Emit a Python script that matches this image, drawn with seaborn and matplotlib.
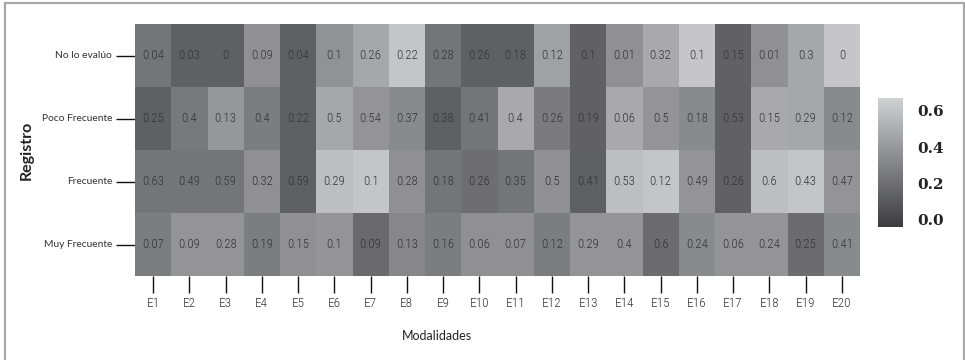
import numpy as np
import pandas as pd
import matplotlib
matplotlib.use("Agg")
import matplotlib.pyplot as plt
from matplotlib.colors import LinearSegmentedColormap
from matplotlib.patches import Rectangle
import seaborn as sns

# Categories
modalidades = [f"E{i}" for i in range(1, 21)]
registro = ["No lo evalúo", "Poco Frecuente", "Frecuente", "Muy Frecuente"]

# Proportions written in each cell
no_lo_evaluo = [0.04, 0.03, 0, 0.09, 0.04, 0.1, 0.26, 0.22, 0.28, 0.26,
                0.18, 0.12, 0.1, 0.01, 0.32, 0.1, 0.15, 0.01, 0.3, 0]
poco_frecuente = [0.25, 0.4, 0.13, 0.4, 0.22, 0.5, 0.54, 0.37, 0.38, 0.41,
                  0.4, 0.26, 0.19, 0.06, 0.5, 0.18, 0.53, 0.15, 0.29, 0.12]
frecuente = [0.63, 0.49, 0.59, 0.32, 0.59, 0.29, 0.1, 0.28, 0.18, 0.26,
             0.35, 0.5, 0.41, 0.53, 0.12, 0.49, 0.26, 0.6, 0.43, 0.47]
muy_frecuente = [0.07, 0.09, 0.28, 0.19, 0.15, 0.1, 0.09, 0.13, 0.16, 0.06,
                 0.07, 0.12, 0.29, 0.4, 0.6, 0.24, 0.06, 0.24, 0.25, 0.41]

# Shading intensity of each cell (colour scale)
tono_no_lo_evaluo = [0.23, 0.13, 0.13, 0.36, 0.13, 0.37, 0.47, 0.61, 0.23, 0.13,
                     0.13, 0.44, 0.14, 0.36, 0.48, 0.62, 0.14, 0.36, 0.47, 0.62]
tono_poco_frecuente = [0.13, 0.25, 0.39, 0.27, 0.13, 0.47, 0.38, 0.33, 0.13, 0.23,
                       0.48, 0.26, 0.14, 0.48, 0.38, 0.33, 0.14, 0.48, 0.47, 0.33]
tono_frecuente = [0.23, 0.23, 0.23, 0.36, 0.13, 0.58, 0.61, 0.36, 0.23, 0.20,
                  0.23, 0.36, 0.13, 0.58, 0.61, 0.38, 0.14, 0.58, 0.61, 0.38]
tono_muy_frecuente = [0.27, 0.38, 0.38, 0.27, 0.36, 0.38, 0.18, 0.32, 0.27, 0.36,
                      0.36, 0.27, 0.38, 0.38, 0.19, 0.33, 0.38, 0.38, 0.19, 0.33]

valores = pd.DataFrame([no_lo_evaluo, poco_frecuente, frecuente, muy_frecuente],
                       index=registro, columns=modalidades)
tonos = pd.DataFrame([tono_no_lo_evaluo, tono_poco_frecuente, tono_frecuente,
                      tono_muy_frecuente], index=registro, columns=modalidades)
etiquetas = valores.map(lambda v: f"{v:g}")

sns.set_theme(style="white")
plt.rcParams["font.family"] = ["Lato", "DejaVu Sans"]

estrecha = ["Roboto Condensed", "Open Sans Condensed", "Liberation Sans Narrow",
            "DejaVu Sans"]

grises = LinearSegmentedColormap.from_list("grises", ["#3c3c3e", "#d0d1d3"])

fig = plt.figure(figsize=(9.65, 3.6), dpi=100)
ax = fig.add_axes([135 / 965, 1 - 276 / 360, 725 / 965, 252 / 360])
cax = fig.add_axes([878 / 965, 1 - 227 / 360, 25 / 965, 129 / 360])

sns.heatmap(tonos, ax=ax, cbar_ax=cax, cmap=grises, vmin=-0.04, vmax=0.67,
            annot=etiquetas, fmt="", linewidths=0,
            annot_kws={"fontsize": 9.3, "color": "#353537", "family": estrecha,
                       "fontstretch": "condensed", "fontweight": "light"})

ax.set_xlabel("Modalidades", fontsize=9, color="#222222")
ax.xaxis.set_label_coords(0.417, -0.215)
ax.set_ylabel("Registro", fontsize=11.5, fontweight="bold", color="#222222")
ax.yaxis.set_label_coords(-0.14, 0.5)
ax.tick_params(axis="y", left=True, length=13.5, width=1, color="#111111",
               pad=3, labelsize=7.4, labelcolor="#333333", rotation=0)
ax.tick_params(axis="x", bottom=True, length=12, width=1, color="#111111",
               pad=3, labelsize=9.5, labelcolor="#333333", rotation=0)
for t in ax.get_xticklabels():
    t.set_family(estrecha)
    t.set_fontstretch("condensed")
    t.set_fontweight("light")

cbar = ax.collections[0].colorbar
cbar.outline.set_visible(False)
cbar.set_ticks([0.0, 0.2, 0.4, 0.6])
cbar.ax.yaxis.set_major_formatter(matplotlib.ticker.FormatStrFormatter("%.1f"))
cbar.ax.tick_params(left=True, right=True, direction="in", length=5,
                    width=1.3, color="white", pad=10, labelsize=11)
for t in cbar.ax.get_yticklabels():
    t.set_family(["DejaVu Serif"])
    t.set_fontweight("bold")
    t.set_color("#222222")

# Frame around the whole figure
fig.patches.append(Rectangle((5 / 965, -0.05), 959 / 965, 1.05 - 3 / 360,
                             transform=fig.transFigure, fill=False,
                             edgecolor="#a8a8a8", linewidth=1.6))

fig.savefig("out.png", dpi=100)
